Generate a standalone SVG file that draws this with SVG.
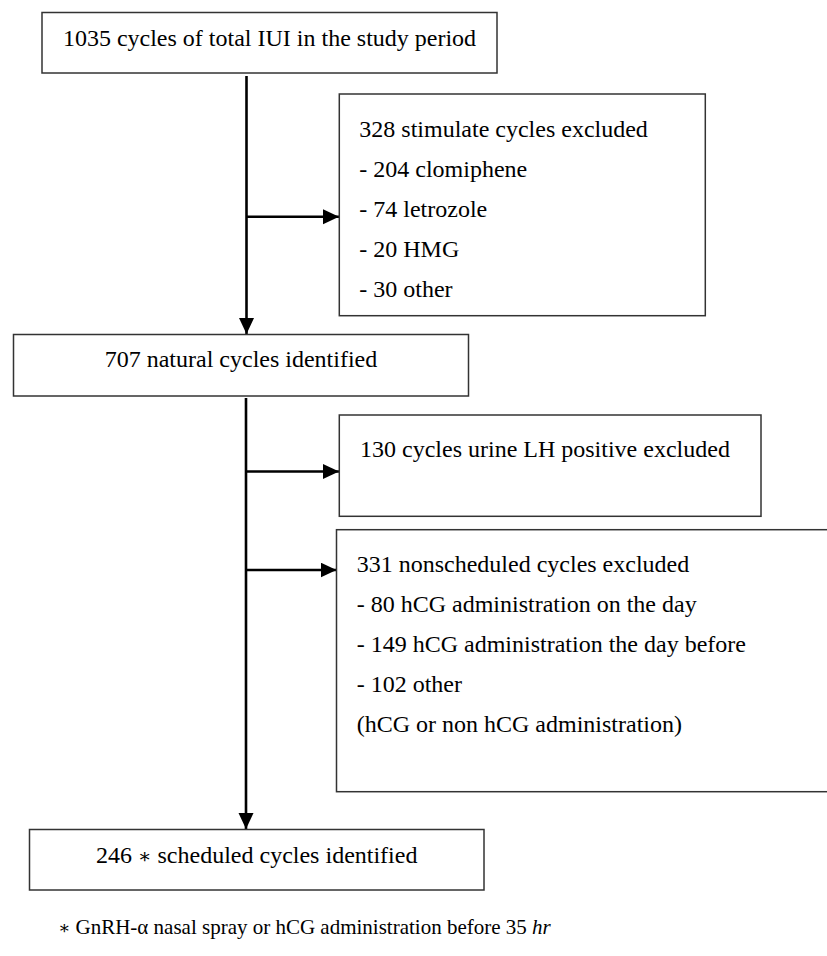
<svg xmlns="http://www.w3.org/2000/svg" width="827" height="956" viewBox="0 0 827 956">
<style>
.box{fill:#fff;stroke:#333;stroke-width:1.5}
.t{font-family:"Liberation Serif","Times New Roman",serif;font-size:24px;fill:#000}
.c{text-anchor:middle}
.ln{stroke:#000;stroke-width:2.6;fill:none}
.ast{font-family:"DejaVu Serif","Liberation Serif",serif;font-size:20px}
.note{font-size:21px}
.note .ast{font-size:18px}
</style>
<defs>
<marker id="ah" markerUnits="userSpaceOnUse" markerWidth="17" markerHeight="16" refX="16" refY="7.5" orient="auto">
<path d="M0,0 L16,7.5 L0,15 z" fill="#000"/>
</marker>
</defs>
<rect width="827" height="956" fill="#fff"/>
<g id="connectors">
<line class="ln" x1="246.5" y1="76" x2="246.5" y2="334" marker-end="url(#ah)"/>
<line class="ln" x1="246.5" y1="216.7" x2="339" y2="216.7" marker-end="url(#ah)"/>
<line class="ln" x1="246" y1="398" x2="246" y2="829" marker-end="url(#ah)"/>
<line class="ln" x1="246" y1="471.5" x2="339" y2="471.5" marker-end="url(#ah)"/>
<line class="ln" x1="246" y1="570" x2="336.5" y2="570" marker-end="url(#ah)"/>
</g>
<g id="n1">
<rect class="box" x="42" y="12.5" width="455" height="60.5"/>
<text class="t c" x="269.5" y="45.5">1035 cycles of total IUI in the study period</text>
</g>
<g id="n2">
<rect class="box" x="339.3" y="94" width="366" height="221.7"/>
<text class="t" x="359.3" y="136.7">328 stimulate cycles excluded</text>
<text class="t" x="359.3" y="176.7">- 204 clomiphene</text>
<text class="t" x="359.3" y="216.7">- 74 letrozole</text>
<text class="t" x="359.3" y="256.7">- 20 HMG</text>
<text class="t" x="359.3" y="296.7">- 30 other</text>
</g>
<g id="n3">
<rect class="box" x="13.5" y="334.5" width="455" height="61.5"/>
<text class="t c" x="241" y="366.7">707 natural cycles identified</text>
</g>
<g id="n4">
<rect class="box" x="339.3" y="415" width="421.7" height="101.3"/>
<text class="t" x="360" y="457">130 cycles urine LH positive excluded</text>
</g>
<g id="n5">
<rect class="box" x="336.5" y="529.7" width="495" height="262"/>
<text class="t" x="356.7" y="571.7">331 nonscheduled cycles excluded</text>
<text class="t" x="356.7" y="611.7">- 80 hCG administration on the day</text>
<text class="t" x="356.7" y="651.7">- 149 hCG administration the day before</text>
<text class="t" x="356.7" y="691.7">- 102 other</text>
<text class="t" x="356.7" y="731.7">(hCG or non hCG administration)</text>
</g>
<g id="n6">
<rect class="box" x="29.5" y="829.5" width="454.5" height="60.5"/>
<text class="t c" x="256.7" y="863">246 <tspan class="ast">∗</tspan> scheduled cycles identified</text>
</g>
<g id="note">
<text class="t note" x="58" y="934"><tspan class="ast">∗</tspan> GnRH-α nasal spray or hCG administration before 35 <tspan font-style="italic">hr</tspan></text>
</g>
</svg>
